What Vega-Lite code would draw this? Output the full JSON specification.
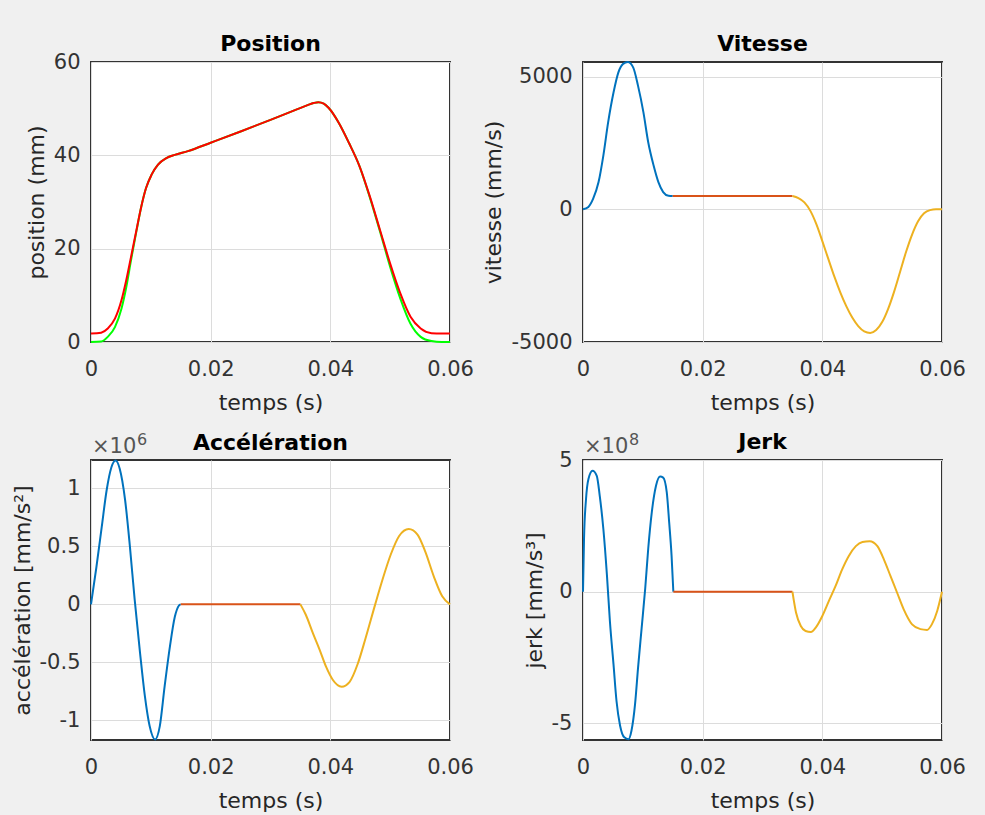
{
  "$schema": "https://vega.github.io/schema/vega-lite/v6.json",
  "background": "#f0f0f0",
  "padding": {"left": 10, "top": 32, "right": 25, "bottom": 5},
  "columns": 2,
  "spacing": {"row": 118, "column": 133},
  "bounds": "flush",
  "resolve": {"scale": {"x": "independent", "y": "independent", "color": "independent"}},
  "config": {
    "font": "DejaVu Sans",
    "view": {"fill": "white", "stroke": "#333333", "strokeWidth": 2},
    "axis": {
      "labelFont": "DejaVu Sans", "labelFontSize": 21, "labelColor": "#333333", "labelFlush": false,
      "titleFont": "DejaVu Sans", "titleFontSize": 22, "titleFontWeight": "normal", "titleColor": "#262626",
      "domain": false, "ticks": false, "tickSize": 0,
      "gridColor": "#dcdcdc", "gridWidth": 1, "gridOpacity": 1
    },
    "axisX": {"labelPadding": 16, "titlePadding": 13},
    "axisY": {"labelPadding": 11, "titlePadding": 5},
    "title": {"font": "DejaVu Sans", "fontSize": 22, "fontWeight": "bold", "color": "#000000", "offset": 2, "frame": "group"},
    "line": {"strokeWidth": 2, "interpolate": "monotone"}
  },
  "datasets": {
    "pos": [
      {"t": 0, "p": 0, "s": "g"}, {"t": 0.0017, "p": 0.1, "s": "g"}, {"t": 0.0028, "p": 1.1, "s": "g"}, {"t": 0.004, "p": 3.2, "s": "g"}, {"t": 0.0051, "p": 7.2, "s": "g"}, {"t": 0.0059, "p": 11.8, "s": "g"}, {"t": 0.0067, "p": 17.6, "s": "g"}, {"t": 0.0076, "p": 23.8, "s": "g"}, {"t": 0.0084, "p": 29.0, "s": "g"}, {"t": 0.0092, "p": 33.0, "s": "g"}, {"t": 0.0101, "p": 35.8, "s": "g"}, {"t": 0.0112, "p": 38.0, "s": "g"}, {"t": 0.0126, "p": 39.4, "s": "g"}, {"t": 0.014, "p": 40.1, "s": "g"}, {"t": 0.0162, "p": 40.9, "s": "g"}, {"t": 0.02, "p": 42.7, "s": "g"}, {"t": 0.025, "p": 45.1, "s": "g"}, {"t": 0.03, "p": 47.6, "s": "g"}, {"t": 0.0345, "p": 49.9, "s": "g"}, {"t": 0.0363, "p": 50.8, "s": "g"}, {"t": 0.0372, "p": 51.2, "s": "g"}, {"t": 0.038, "p": 51.4, "s": "g"}, {"t": 0.0389, "p": 51.1, "s": "g"}, {"t": 0.0397, "p": 50.2, "s": "g"}, {"t": 0.0414, "p": 47.0, "s": "g"}, {"t": 0.0431, "p": 42.7, "s": "g"}, {"t": 0.0449, "p": 37.6, "s": "g"}, {"t": 0.0466, "p": 31.0, "s": "g"}, {"t": 0.0483, "p": 23.7, "s": "g"}, {"t": 0.05, "p": 16.1, "s": "g"}, {"t": 0.0517, "p": 9.3, "s": "g"}, {"t": 0.0534, "p": 3.9, "s": "g"}, {"t": 0.0551, "p": 1.1, "s": "g"}, {"t": 0.0569, "p": 0.2, "s": "g"}, {"t": 0.0586, "p": 0, "s": "g"}, {"t": 0.06, "p": 0, "s": "g"},
      {"t": 0, "p": 1.8, "s": "r"}, {"t": 0.0017, "p": 2.0, "s": "r"}, {"t": 0.0028, "p": 2.9, "s": "r"}, {"t": 0.004, "p": 5.0, "s": "r"}, {"t": 0.0051, "p": 9.0, "s": "r"}, {"t": 0.0059, "p": 13.3, "s": "r"}, {"t": 0.0067, "p": 18.3, "s": "r"}, {"t": 0.0076, "p": 24.0, "s": "r"}, {"t": 0.0084, "p": 29.0, "s": "r"}, {"t": 0.0092, "p": 33.0, "s": "r"}, {"t": 0.0101, "p": 35.8, "s": "r"}, {"t": 0.0112, "p": 38.0, "s": "r"}, {"t": 0.0126, "p": 39.4, "s": "r"}, {"t": 0.014, "p": 40.1, "s": "r"}, {"t": 0.0162, "p": 40.9, "s": "r"}, {"t": 0.02, "p": 42.7, "s": "r"}, {"t": 0.025, "p": 45.1, "s": "r"}, {"t": 0.03, "p": 47.6, "s": "r"}, {"t": 0.0345, "p": 49.9, "s": "r"}, {"t": 0.0363, "p": 50.8, "s": "r"}, {"t": 0.0372, "p": 51.2, "s": "r"}, {"t": 0.038, "p": 51.4, "s": "r"}, {"t": 0.0389, "p": 51.1, "s": "r"}, {"t": 0.0397, "p": 50.2, "s": "r"}, {"t": 0.0414, "p": 47.0, "s": "r"}, {"t": 0.0431, "p": 42.7, "s": "r"}, {"t": 0.0449, "p": 37.6, "s": "r"}, {"t": 0.0466, "p": 31.2, "s": "r"}, {"t": 0.0483, "p": 24.0, "s": "r"}, {"t": 0.05, "p": 16.8, "s": "r"}, {"t": 0.0517, "p": 10.4, "s": "r"}, {"t": 0.0534, "p": 5.4, "s": "r"}, {"t": 0.0551, "p": 2.9, "s": "r"}, {"t": 0.0569, "p": 1.9, "s": "r"}, {"t": 0.0586, "p": 1.8, "s": "r"}, {"t": 0.06, "p": 1.8, "s": "r"}
    ],
    "vit": [
      {"t": 0, "v": 0, "s": "a"}, {"t": 0.0009, "v": 90, "s": "a"}, {"t": 0.0017, "v": 400, "s": "a"}, {"t": 0.0026, "v": 1025, "s": "a"}, {"t": 0.0034, "v": 2025, "s": "a"}, {"t": 0.0042, "v": 3275, "s": "a"}, {"t": 0.0051, "v": 4400, "s": "a"}, {"t": 0.0059, "v": 5150, "s": "a"}, {"t": 0.0067, "v": 5480, "s": "a"}, {"t": 0.0075, "v": 5550, "s": "a"}, {"t": 0.0084, "v": 5340, "s": "a"}, {"t": 0.0092, "v": 4650, "s": "a"}, {"t": 0.0101, "v": 3650, "s": "a"}, {"t": 0.0109, "v": 2525, "s": "a"}, {"t": 0.0118, "v": 1650, "s": "a"}, {"t": 0.0126, "v": 1025, "s": "a"}, {"t": 0.0134, "v": 650, "s": "a"}, {"t": 0.0143, "v": 510, "s": "a"}, {"t": 0.015, "v": 500, "s": "a"},
      {"t": 0.015, "v": 500, "s": "b"}, {"t": 0.035, "v": 500, "s": "b"},
      {"t": 0.035, "v": 500, "s": "c"}, {"t": 0.036, "v": 420, "s": "c"}, {"t": 0.037, "v": 260, "s": "c"}, {"t": 0.038, "v": -60, "s": "c"}, {"t": 0.039, "v": -560, "s": "c"}, {"t": 0.04, "v": -1200, "s": "c"}, {"t": 0.041, "v": -1870, "s": "c"}, {"t": 0.042, "v": -2530, "s": "c"}, {"t": 0.043, "v": -3130, "s": "c"}, {"t": 0.044, "v": -3650, "s": "c"}, {"t": 0.045, "v": -4080, "s": "c"}, {"t": 0.046, "v": -4400, "s": "c"}, {"t": 0.047, "v": -4600, "s": "c"}, {"t": 0.048, "v": -4660, "s": "c"}, {"t": 0.049, "v": -4550, "s": "c"}, {"t": 0.05, "v": -4250, "s": "c"}, {"t": 0.051, "v": -3750, "s": "c"}, {"t": 0.052, "v": -3100, "s": "c"}, {"t": 0.053, "v": -2350, "s": "c"}, {"t": 0.054, "v": -1600, "s": "c"}, {"t": 0.055, "v": -950, "s": "c"}, {"t": 0.056, "v": -450, "s": "c"}, {"t": 0.057, "v": -150, "s": "c"}, {"t": 0.058, "v": -30, "s": "c"}, {"t": 0.059, "v": 0, "s": "c"}, {"t": 0.06, "v": 0, "s": "c"}
    ],
    "acc": [
      {"t": 0, "a": 0, "s": "a"}, {"t": 0.0009, "a": 320000, "s": "a"}, {"t": 0.0018, "a": 670000, "s": "a"}, {"t": 0.0026, "a": 980000, "s": "a"}, {"t": 0.0034, "a": 1180000, "s": "a"}, {"t": 0.0041, "a": 1240000, "s": "a"}, {"t": 0.0048, "a": 1170000, "s": "a"}, {"t": 0.0057, "a": 900000, "s": "a"}, {"t": 0.0065, "a": 500000, "s": "a"}, {"t": 0.0073, "a": 40000, "s": "a"}, {"t": 0.0082, "a": -420000, "s": "a"}, {"t": 0.009, "a": -790000, "s": "a"}, {"t": 0.0098, "a": -1050000, "s": "a"}, {"t": 0.0107, "a": -1165000, "s": "a"}, {"t": 0.0115, "a": -1050000, "s": "a"}, {"t": 0.0123, "a": -710000, "s": "a"}, {"t": 0.0132, "a": -360000, "s": "a"}, {"t": 0.014, "a": -110000, "s": "a"}, {"t": 0.0147, "a": -10000, "s": "a"}, {"t": 0.015, "a": 0, "s": "a"},
      {"t": 0.015, "a": 0, "s": "b"}, {"t": 0.035, "a": 0, "s": "b"},
      {"t": 0.035, "a": 0, "s": "c"}, {"t": 0.0359, "a": -90000, "s": "c"}, {"t": 0.0371, "a": -250000, "s": "c"}, {"t": 0.0382, "a": -390000, "s": "c"}, {"t": 0.0393, "a": -540000, "s": "c"}, {"t": 0.0404, "a": -650000, "s": "c"}, {"t": 0.0419, "a": -710000, "s": "c"}, {"t": 0.0432, "a": -670000, "s": "c"}, {"t": 0.0446, "a": -510000, "s": "c"}, {"t": 0.0459, "a": -290000, "s": "c"}, {"t": 0.0475, "a": 0, "s": "c"}, {"t": 0.0487, "a": 210000, "s": "c"}, {"t": 0.0501, "a": 430000, "s": "c"}, {"t": 0.0515, "a": 590000, "s": "c"}, {"t": 0.0531, "a": 650000, "s": "c"}, {"t": 0.0546, "a": 600000, "s": "c"}, {"t": 0.0559, "a": 450000, "s": "c"}, {"t": 0.0573, "a": 240000, "s": "c"}, {"t": 0.0587, "a": 70000, "s": "c"}, {"t": 0.06, "a": 0, "s": "c"}
    ],
    "jerk": [
      {"t": 0, "j": 0, "s": "a"}, {"t": 0.00017, "j": 200000000, "s": "a"}, {"t": 0.0005, "j": 350000000, "s": "a"}, {"t": 0.0009, "j": 427000000, "s": "a"}, {"t": 0.0016, "j": 459000000, "s": "a"}, {"t": 0.0023, "j": 440000000, "s": "a"}, {"t": 0.0028, "j": 364000000, "s": "a"}, {"t": 0.0034, "j": 239000000, "s": "a"}, {"t": 0.004, "j": 63000000, "s": "a"}, {"t": 0.0045, "j": -113000000, "s": "a"}, {"t": 0.0051, "j": -276000000, "s": "a"}, {"t": 0.0056, "j": -415000000, "s": "a"}, {"t": 0.0062, "j": -509000000, "s": "a"}, {"t": 0.0069, "j": -553000000, "s": "a"}, {"t": 0.0076, "j": -560000000, "s": "a"}, {"t": 0.0081, "j": -528000000, "s": "a"}, {"t": 0.0087, "j": -427000000, "s": "a"}, {"t": 0.0092, "j": -289000000, "s": "a"}, {"t": 0.0098, "j": -138000000, "s": "a"}, {"t": 0.0104, "j": 13000000, "s": "a"}, {"t": 0.0109, "j": 163000000, "s": "a"}, {"t": 0.0115, "j": 302000000, "s": "a"}, {"t": 0.0122, "j": 402000000, "s": "a"}, {"t": 0.0129, "j": 437000000, "s": "a"}, {"t": 0.0134, "j": 433000000, "s": "a"}, {"t": 0.014, "j": 377000000, "s": "a"}, {"t": 0.0144, "j": 264000000, "s": "a"}, {"t": 0.0148, "j": 138000000, "s": "a"}, {"t": 0.0151, "j": 0, "s": "a"},
      {"t": 0.0151, "j": 0, "s": "b"}, {"t": 0.035, "j": 0, "s": "b"},
      {"t": 0.035, "j": 0, "s": "c"}, {"t": 0.0356, "j": -79000000, "s": "c"}, {"t": 0.0364, "j": -130000000, "s": "c"}, {"t": 0.0372, "j": -149000000, "s": "c"}, {"t": 0.0381, "j": -153000000, "s": "c"}, {"t": 0.0389, "j": -136000000, "s": "c"}, {"t": 0.04, "j": -92000000, "s": "c"}, {"t": 0.0411, "j": -35000000, "s": "c"}, {"t": 0.0422, "j": 21000000, "s": "c"}, {"t": 0.0433, "j": 84000000, "s": "c"}, {"t": 0.0444, "j": 135000000, "s": "c"}, {"t": 0.0456, "j": 173000000, "s": "c"}, {"t": 0.0467, "j": 189000000, "s": "c"}, {"t": 0.0479, "j": 192000000, "s": "c"}, {"t": 0.0492, "j": 173000000, "s": "c"}, {"t": 0.0503, "j": 122000000, "s": "c"}, {"t": 0.0514, "j": 59000000, "s": "c"}, {"t": 0.0525, "j": -4000000, "s": "c"}, {"t": 0.0536, "j": -67000000, "s": "c"}, {"t": 0.055, "j": -124000000, "s": "c"}, {"t": 0.0564, "j": -142000000, "s": "c"}, {"t": 0.0575, "j": -145000000, "s": "c"}, {"t": 0.0583, "j": -124000000, "s": "c"}, {"t": 0.0592, "j": -73000000, "s": "c"}, {"t": 0.06, "j": 0, "s": "c"}
    ]
  },
  "concat": [
    {
      "width": 359, "height": 280,
      "title": {"text": "Position", "offset": -5},
      "data": {"name": "pos"},
      "encoding": {
        "x": {"field": "t", "type": "quantitative", "scale": {"domain": [0, 0.06], "nice": false}, "axis": {"values": [0, 0.02, 0.04, 0.06], "labelExpr": "toString(datum.value)", "title": "temps (s)"}},
        "y": {"field": "p", "type": "quantitative", "scale": {"domain": [0, 60], "nice": false}, "axis": {"values": [0, 20, 40, 60], "labelExpr": "toString(datum.value)", "title": "position (mm)"}}
      },
      "layer": [
        {"transform": [{"filter": "datum.s === 'g'"}], "mark": {"type": "line", "color": "#00ff00"}},
        {"transform": [{"filter": "datum.s === 'r'"}], "mark": {"type": "line", "color": "#ff0000"}}
      ]
    },
    {
      "width": 359, "height": 280,
      "title": {"text": "Vitesse", "offset": 2},
      "data": {"name": "vit"},
      "mark": {"type": "line"},
      "encoding": {
        "x": {"field": "t", "type": "quantitative", "scale": {"domain": [0, 0.06], "nice": false}, "axis": {"values": [0, 0.02, 0.04, 0.06], "labelExpr": "toString(datum.value)", "title": "temps (s)"}},
        "y": {"field": "v", "type": "quantitative", "scale": {"domain": [-5000, 5550], "nice": false}, "axis": {"values": [-5000, 0, 5000], "labelExpr": "toString(datum.value)", "title": "vitesse (mm/s)"}},
        "color": {"field": "s", "type": "nominal", "scale": {"domain": ["a", "b", "c"], "range": ["#0072bd", "#d95319", "#edb120"]}, "legend": null}
      }
    },
    {
      "width": 359, "height": 280,
      "title": {"text": "Accélération", "offset": -23},
      "layer": [
        {
          "data": {"name": "acc"},
          "mark": {"type": "line"},
          "encoding": {
            "x": {"field": "t", "type": "quantitative", "scale": {"domain": [0, 0.06], "nice": false}, "axis": {"values": [0, 0.02, 0.04, 0.06], "labelExpr": "toString(datum.value)", "title": "temps (s)"}},
            "y": {"field": "a", "type": "quantitative", "scale": {"domain": [-1170000, 1245000], "nice": false}, "axis": {"values": [-1000000, -500000, 0, 500000, 1000000], "labelExpr": "toString(datum.value / 1000000)", "title": "accélération [mm/s²]"}},
            "color": {"field": "s", "type": "nominal", "scale": {"domain": ["a", "b", "c"], "range": ["#0072bd", "#d95319", "#edb120"]}, "legend": null}
          }
        },
        {
          "data": {"values": [{"t": 0, "a": 1245000, "lab": "×10", "sup": "6"}]},
          "encoding": {
            "x": {"field": "t", "type": "quantitative"},
            "y": {"field": "a", "type": "quantitative"}
          },
          "layer": [
            {"mark": {"type": "text", "align": "left", "baseline": "alphabetic", "dx": 1, "dy": -7, "fontSize": 21, "color": "#555555"}, "encoding": {"text": {"field": "lab"}}},
            {"mark": {"type": "text", "align": "left", "baseline": "alphabetic", "dx": 46, "dy": -15, "fontSize": 16, "color": "#555555"}, "encoding": {"text": {"field": "sup"}}}
          ]
        }
      ]
    },
    {
      "width": 359, "height": 280,
      "title": {"text": "Jerk", "offset": -22},
      "layer": [
        {
          "data": {"name": "jerk"},
          "mark": {"type": "line"},
          "encoding": {
            "x": {"field": "t", "type": "quantitative", "scale": {"domain": [0, 0.06], "nice": false}, "axis": {"values": [0, 0.02, 0.04, 0.06], "labelExpr": "toString(datum.value)", "title": "temps (s)"}},
            "y": {"field": "j", "type": "quantitative", "scale": {"domain": [-563000000, 500000000], "nice": false}, "axis": {"values": [-500000000, 0, 500000000], "labelExpr": "toString(datum.value / 100000000)", "title": "jerk [mm/s³]"}},
            "color": {"field": "s", "type": "nominal", "scale": {"domain": ["a", "b", "c"], "range": ["#0072bd", "#d95319", "#edb120"]}, "legend": null}
          }
        },
        {
          "data": {"values": [{"t": 0, "j": 500000000, "lab": "×10", "sup": "8"}]},
          "encoding": {
            "x": {"field": "t", "type": "quantitative"},
            "y": {"field": "j", "type": "quantitative"}
          },
          "layer": [
            {"mark": {"type": "text", "align": "left", "baseline": "alphabetic", "dx": 1, "dy": -7, "fontSize": 21, "color": "#555555"}, "encoding": {"text": {"field": "lab"}}},
            {"mark": {"type": "text", "align": "left", "baseline": "alphabetic", "dx": 46, "dy": -15, "fontSize": 16, "color": "#555555"}, "encoding": {"text": {"field": "sup"}}}
          ]
        }
      ]
    }
  ]
}
